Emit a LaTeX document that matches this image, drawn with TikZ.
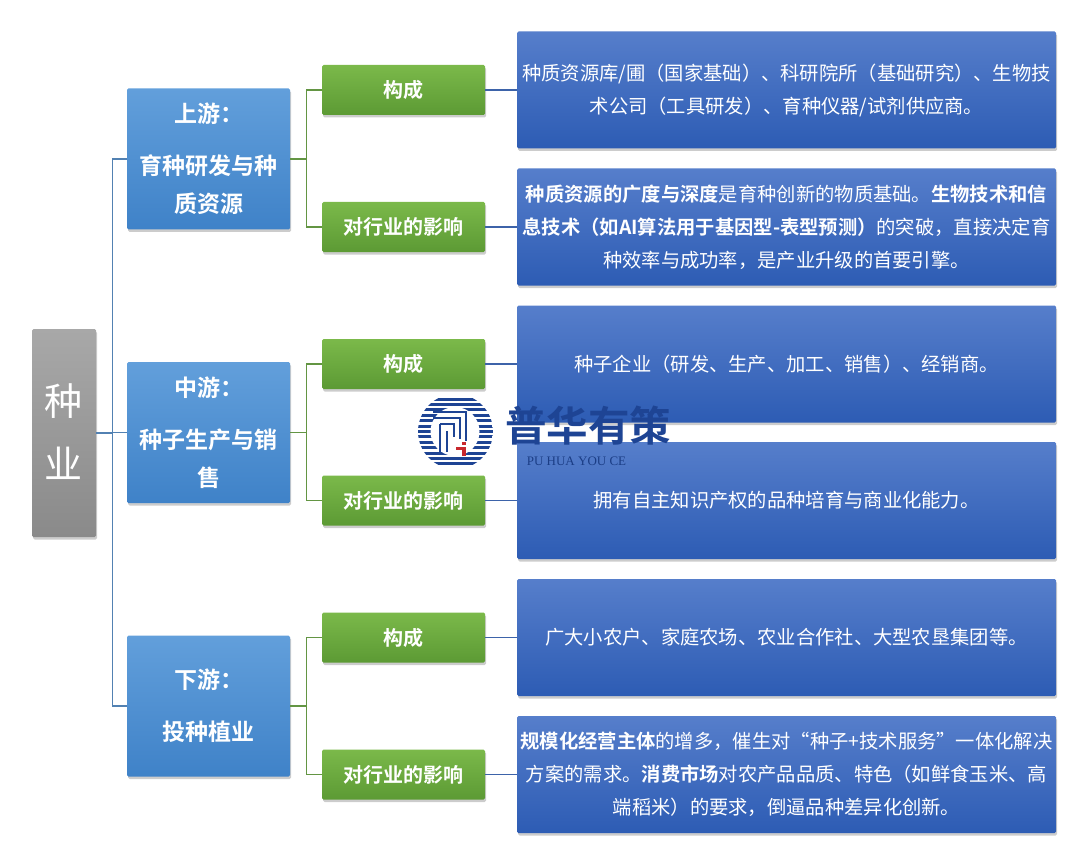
\documentclass[tikz,border=0pt]{standalone}
\usepackage{fontspec}
\setmainfont{Noto Sans CJK SC}[BoldFont={Noto Sans CJK SC Bold}]
\usetikzlibrary{shadows}
\definecolor{rootTop}{HTML}{A8A8A8}
\definecolor{rootBot}{HTML}{8A8A8A}
\definecolor{stageTop}{HTML}{629FDB}
\definecolor{stageBot}{HTML}{3F82C8}
\definecolor{itemTop}{HTML}{7BB94A}
\definecolor{itemBot}{HTML}{5C9A34}
\definecolor{infoTop}{HTML}{567ECB}
\definecolor{infoBot}{HTML}{2D5CB4}
\definecolor{logoBlue}{HTML}{1E4494}
\definecolor{logoRed}{HTML}{C8282D}
\begin{document}
\begin{tikzpicture}[
  x=1pt, y=-1pt,
  panel/.style={rectangle, rounded corners=1.5pt, inner sep=0pt, text=white, align=center,
    drop shadow={shadow xshift=1.2pt, shadow yshift=-2.5pt, opacity=0.4}},
  rootbox/.style={panel, minimum width=64pt, minimum height=208pt,
    top color=rootTop, bottom color=rootBot, font=\fontsize{38}{63}\selectfont},
  stagebox/.style={panel, minimum width=163pt, minimum height=141pt,
    top color=stageTop, bottom color=stageBot, font=\fontsize{23}{38}\selectfont\bfseries},
  itembox/.style={panel, minimum width=163pt, minimum height=50pt,
    top color=itemTop, bottom color=itemBot, font=\fontsize{20}{24}\selectfont\bfseries},
  infobox/.style={panel, minimum width=539pt, minimum height=117pt,
    top color=infoTop, bottom color=infoBot, font=\fontsize{19.3}{33}\selectfont},
  rootedge/.style={draw=stageBot!70!gray, line width=1.3pt},
  itemedge/.style={draw=itemBot!80!gray, line width=1.3pt},
  infoedge/.style={draw=infoBot!80!gray, line width=1.3pt},
  logoline/.style={draw=logoBlue, line width=2.6pt}
]
  \useasboundingbox (0,0) rectangle (1080,864);
  \node[rootbox] (root) at (64,433) {\raisebox{4pt}{种}\\\raisebox{4pt}{业}};

  \node[stagebox] (up) at (208.5,159) {上游：\\[14pt]育种研发与种\\质资源};
  \node[stagebox] (mid) at (208.5,432.5) {中游：\\[14pt]种子生产与销\\售};
  \node[stagebox] (down) at (208.5,706) {下游：\\[14pt]投种植业};

  \node[itembox] (upA) at (403.5,90) {构成};
  \node[itembox] (upB) at (403.5,227) {对行业的影响};
  \node[itembox] (midA) at (403.5,364) {构成};
  \node[itembox] (midB) at (403.5,500.5) {对行业的影响};
  \node[itembox] (downA) at (403.5,637.5) {构成};
  \node[itembox] (downB) at (403.5,774.5) {对行业的影响};

  \node[infobox] (upAinfo) at (786.5,90) {种质资源库/圃（国家基础）、科研院所（基础研究）、生物技\\术公司（工具研发）、育种仪器/试剂供应商。};
  \node[infobox] (upBinfo) at (786.5,227) {\textbf{种质资源的广度与深度}是育种创新的物质基础。\textbf{生物技术和信}\\\textbf{息技术（如AI算法用于基因型-表型预测）}的突破，直接决定育\\种效率与成功率，是产业升级的首要引擎。};
  \node[infobox] (midAinfo) at (786.5,364) {种子企业（研发、生产、加工、销售）、经销商。};
  \node[infobox] (midBinfo) at (786.5,500.5) {拥有自主知识产权的品种培育与商业化能力。};
  \node[infobox] (downAinfo) at (786.5,637.5) {广大小农户、家庭农场、农业合作社、大型农垦集团等。};
  \node[infobox] (downBinfo) at (786.5,774.5) {\textbf{规模化经营主体}的增多，催生对“种子+技术服务”一体化解决\\方案的需求。\textbf{消费市场}对农产品品质、特色（如鲜食玉米、高\\端稻米）的要求，倒逼品种差异化创新。};

  \foreach \stage in {up,mid,down}{
    \draw[rootedge] (root.east) -- ++(16,0) |- (\stage.west);
    \draw[itemedge] (\stage.east) -- ++(16,0) |- (\stage A.west);
    \draw[itemedge] (\stage.east) -- ++(16,0) |- (\stage B.west);
    \draw[infoedge] (\stage A.east) -- (\stage Ainfo.west);
    \draw[infoedge] (\stage B.east) -- (\stage Binfo.west);
  }

  \begin{scope}
    \clip (455.5,431.5) circle (37.5);
    \fill[white] (418,394) rectangle (493,470);
    \foreach \i in {-6,...,6}
      \fill[logoBlue] (418,431.5+\i*5.4-1.5) rectangle (493,431.5+\i*5.4+1.5);
    \fill[white] (455,431.5) circle (24.5);
  \end{scope}
  \draw[logoline] (433,412) -- (466,412) -- (466,441);
  \draw[logoline] (433,418) -- (460,418) -- (460,439);
  \draw[logoline] (440,424) -- (454,424) -- (454,437);
  \draw[logoline] (440,455) -- (440,424);
  \draw[logoline] (447,452) -- (447,431);
  \fill[logoRed] (462,441.5) rectangle (465.5,445);
  \fill[logoRed] (462,447) rectangle (465.5,456);
  \fill[logoRed] (456,447) rectangle (465.5,449.5);
  \node[inner sep=0pt, text=logoBlue, font=\fontsize{41.5}{42}\selectfont\bfseries] (logotext) at (588,426) {普华有策};
  \node[inner sep=0pt, text=logoBlue!90!black, font=\fontsize{13}{14}\fontspec{Liberation Serif}] (logosub) at (576.5,461) {PU HUA YOU CE};
\end{tikzpicture}
\end{document}
